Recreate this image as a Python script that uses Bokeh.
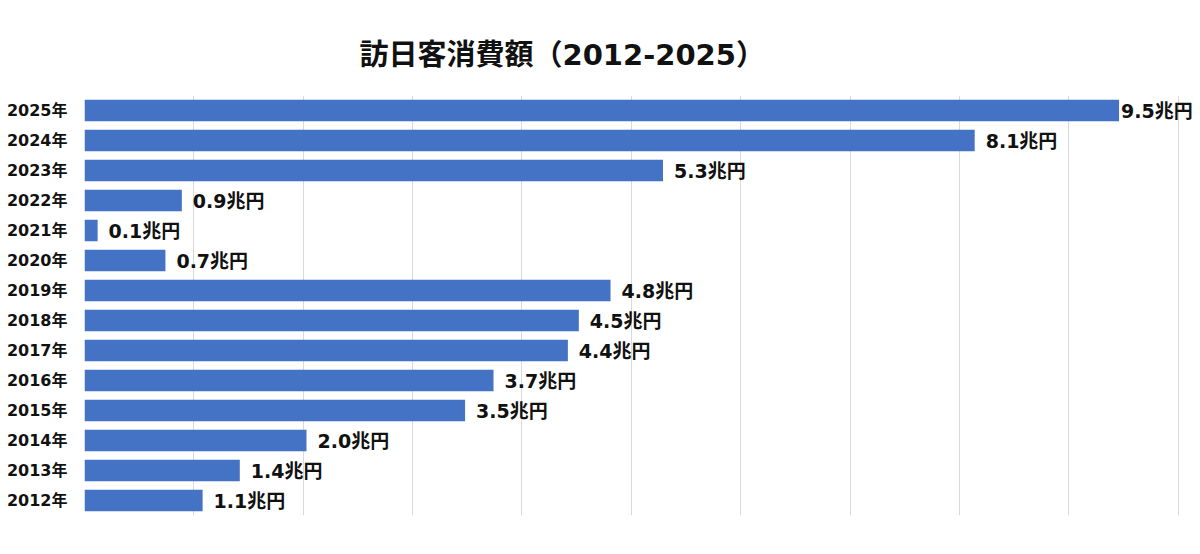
from bokeh.plotting import figure
from bokeh.models import ColumnDataSource, FactorRange, Range1d, FixedTicker, Title
from bokeh.core.properties import value
from bokeh.embed import file_html
from bokeh.resources import INLINE

# Data (bottom to top)
years = ["2012年", "2013年", "2014年", "2015年", "2016年", "2017年", "2018年",
         "2019年", "2020年", "2021年", "2022年", "2023年", "2024年", "2025年"]
spend = [1.08, 1.42, 2.03, 3.48, 3.74, 4.42, 4.52, 4.81, 0.74, 0.12, 0.89, 5.29, 8.14, 9.46]
labels = [f"{v:.1f}兆円" for v in spend]
grid_ticks = list(range(0, 11))
title_text = "訪日客消費額（2012-2025）"

FONT = "'DejaVu Sans', 'Noto Sans CJK JP', sans-serif"

# the largest label sits right next to its bar so that it stays inside the chart
offsets = [2 if v == max(spend) else 11 for v in spend]
src = ColumnDataSource(dict(year=years, spend=spend, label=labels, off=offsets))

FW = 1116
p = figure(frame_width=FW, frame_height=420, output_backend="svg", toolbar_location=None,
           y_range=FactorRange(factors=years, range_padding=0),
           x_range=Range1d(0, FW / 109.36),
           min_border_left=84, min_border_right=0, min_border_top=95, min_border_bottom=39)

p.hbar(y="year", right="spend", height=0.71, source=src, color="#4472C4", line_color=None)
p.text(x="spend", y="year", text="label", source=src, x_offset="off",
       text_baseline="middle", text_align="left", text_font=value(FONT),
       text_font_size="19px", text_font_style="bold", text_color="#111111")

p.xaxis.visible = False
p.xgrid.ticker = FixedTicker(ticks=grid_ticks)
p.xgrid.grid_line_color = "#d9d9d9"
p.xgrid.grid_line_width = 1
p.ygrid.grid_line_color = None
p.outline_line_color = None

ax = p.yaxis[0]
ax.axis_line_color = None
ax.major_tick_line_color = None
ax.minor_tick_line_color = None
ax.major_tick_out = 0
ax.major_tick_in = 0
ax.minor_tick_out = 0
ax.major_label_standoff = 17
ax.major_label_text_font = FONT
ax.major_label_text_font_size = "16px"
ax.major_label_text_font_style = "bold"
ax.major_label_text_color = "#111111"

t = Title(text=title_text, align="left", offset=275, text_font=FONT,
          text_font_size="29px", text_font_style="bold", text_color="#111111",
          standoff=47)
p.add_layout(t, "above")
p.title.visible = False

open("out.html", "w").write(file_html(p, INLINE))
